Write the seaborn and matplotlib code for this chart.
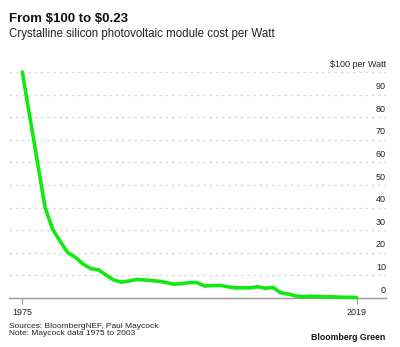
import matplotlib
matplotlib.use("Agg")
import matplotlib.pyplot as plt
import matplotlib.transforms as mtransforms
import seaborn as sns
import pandas as pd

years = list(range(1975, 2020))
cost = [100, 80, 60, 40, 30.4, 25, 20, 18, 15, 13, 12.5, 10.2, 8, 7, 7.5,
        8.2, 8, 7.7, 7.4, 6.8, 6.1, 6.4, 6.8, 6.8, 5.3, 5.5, 5.6, 5.0, 4.5,
        4.5, 4.5, 5.0, 4.3, 4.7, 2.3, 1.8, 0.9, 0.6, 0.8, 0.7, 0.6, 0.5,
        0.35, 0.3, 0.23]
yticks = [0, 10, 20, 30, 40, 50, 60, 70, 80, 90, 100]
ytick_labels = ["0", "10", "20", "30", "40", "50", "60", "70", "80", "90", "$100 per Watt"]
xticks = [1975, 2019]
xtick_labels = ["1975", "2019"]

df = pd.DataFrame({"year": years, "cost": cost})

sns.set_theme(style="white")
plt.rcParams["font.family"] = ["Liberation Sans", "DejaVu Sans"]
plt.rcParams["text.parse_math"] = False

fig = plt.figure(figsize=(4.0, 3.47), dpi=100)
ax = fig.add_axes([0.0225, 1 - 298 / 347, 0.9425, (298 - 72) / 347])

sns.lineplot(data=df, x="year", y="cost", ax=ax, color="#10ea10", linewidth=2.6,
             clip_on=False, zorder=5)

ax.set_xlim(1973.25, 2022.86)
ax.set_ylim(0, 100)
for s in ["top", "left", "right"]:
    ax.spines[s].set_visible(False)
ax.spines["bottom"].set_color("#999999")
ax.spines["bottom"].set_linewidth(1.0)

ax.set_yticks(yticks)
ax.set_yticklabels(ytick_labels)
ax.yaxis.tick_right()
ax.tick_params(axis="y", length=0, pad=0, labelsize=6.5, labelcolor="#222222")
offset = mtransforms.ScaledTranslation(0, 2.5 / 72, fig.dpi_scale_trans)
for lbl in ax.get_yticklabels():
    lbl.set_ha("right")
    lbl.set_va("bottom")
    lbl.set_transform(lbl.get_transform() + offset)

ax.grid(axis="y", color="#d6d6d6", linestyle=(0, (2, 3)), linewidth=0.9)
ax.grid(axis="x", visible=False)

ax.set_xticks(xticks)
ax.set_xticklabels(xtick_labels)
ax.tick_params(axis="x", length=4, width=0.8, color="#999999", pad=3,
               labelsize=6.5, labelcolor="#222222", bottom=True)
ax.set_xlabel("")
ax.set_ylabel("")

fig.text(9 / 400, 1 - 19 / 347, "From $100 to $0.23", fontsize=9.5, fontweight="bold",
         va="center", ha="left", color="#111111")
fig.text(9 / 400, 1 - 34 / 347, "Crystalline silicon photovoltaic module cost per Watt",
         fontsize=8.3, va="center", ha="left", color="#222222")
fig.text(9 / 400, 1 - 326.5 / 347, "Sources: BloombergNEF, Paul Maycock",
         fontsize=6, va="center", ha="left", color="#222222")
fig.text(9 / 400, 1 - 333.5 / 347, "Note: Maycock data 1975 to 2003",
         fontsize=6, va="center", ha="left", color="#222222")
fig.text(385 / 400, 1 - 337 / 347, "Bloomberg Green", fontsize=6.3, fontweight="bold",
         va="center", ha="right", color="#111111")

fig.savefig("out.png", dpi=100, facecolor="white")
